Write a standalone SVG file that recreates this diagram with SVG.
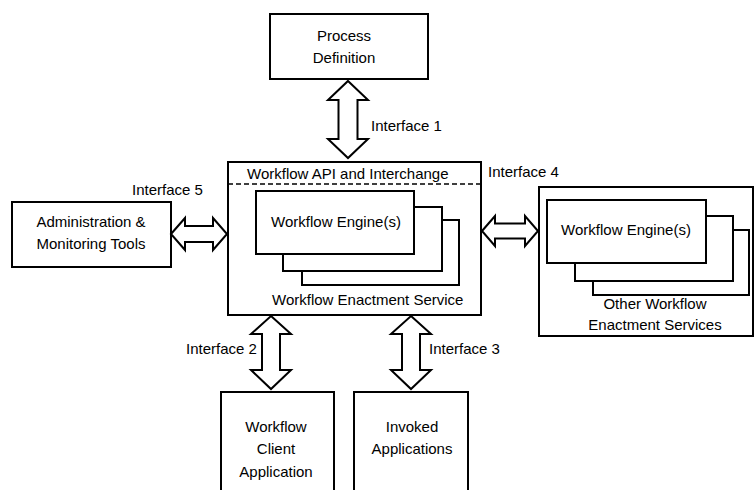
<svg xmlns="http://www.w3.org/2000/svg" width="755" height="490" viewBox="0 0 755 490">
<style>
.box{fill:#fff;stroke:#000;stroke-width:2}
.arr{fill:#fff;stroke:#000;stroke-width:2;stroke-linejoin:miter}
text{font-family:"Liberation Sans",Arial,sans-serif;font-size:15px;fill:#000}
.c{text-anchor:middle}
</style>
<rect width="755" height="490" fill="#fff"/>
<g id="process-definition">
<rect class="box" x="270" y="14" width="158" height="65"/>
<text class="c" x="344" y="41">Process</text>
<text class="c" x="344" y="63">Definition</text>
</g>
<g id="enactment-service">
<rect class="box" x="228" y="162" width="253" height="153"/>
<line x1="228" y1="184" x2="481" y2="184" stroke="#000" stroke-width="1.3" stroke-dasharray="5,3"/>
<text x="247" y="179">Workflow API and Interchange</text>
<rect class="box" x="302" y="220" width="157" height="65"/>
<rect class="box" x="283" y="207" width="159" height="64"/>
<rect class="box" x="256" y="191" width="158" height="63"/>
<text class="c" x="336" y="227">Workflow Engine(s)</text>
<text x="272" y="305">Workflow Enactment Service</text>
</g>
<g id="admin-tools">
<rect class="box" x="12" y="202" width="159" height="65"/>
<text class="c" x="91" y="227">Administration &amp;</text>
<text class="c" x="91" y="249">Monitoring Tools</text>
</g>
<g id="other-services">
<rect class="box" x="539" y="187" width="214" height="149"/>
<rect class="box" x="593" y="230" width="156" height="65"/>
<rect class="box" x="575" y="216" width="158" height="65"/>
<rect class="box" x="547" y="200" width="159" height="63"/>
<text class="c" x="626" y="235">Workflow Engine(s)</text>
<text class="c" x="655" y="309">Other Workflow</text>
<text class="c" x="655" y="330">Enactment Services</text>
</g>
<g id="client-app">
<rect class="box" x="221" y="392" width="113" height="110"/>
<text class="c" x="276" y="432">Workflow</text>
<text class="c" x="276" y="454">Client</text>
<text class="c" x="276" y="477">Application</text>
</g>
<g id="invoked-apps">
<rect class="box" x="354" y="392" width="114" height="110"/>
<text class="c" x="412" y="432">Invoked</text>
<text class="c" x="412" y="454">Applications</text>
</g>
<g id="connectors">
<polygon class="arr" points="348,81 368,100 357.5,100 357.5,139 368,139 348,158 328,139 338.5,139 338.5,100 328,100"/>
<polygon class="arr" points="271,316 291,334 280,334 280,370 291,370 271,389 251,370 262,370 262,334 251,334"/>
<polygon class="arr" points="411,316 431,334 420,334 420,370 431,370 411,389 391,370 402,370 402,334 391,334"/>
<polygon class="arr" points="171,234 185,218 185,226 213,226 213,218 227,234 213,250 213,242 185,242 185,250"/>
<polygon class="arr" points="482,231 495,216 495,223.5 525,223.5 525,216 538,231 525,246 525,238.5 495,238.5 495,246"/>
<text x="371" y="131">Interface 1</text>
<text x="186" y="354">Interface 2</text>
<text x="429" y="354">Interface 3</text>
<text x="488" y="177">Interface 4</text>
<text x="132" y="195">Interface 5</text>
</g>
</svg>
